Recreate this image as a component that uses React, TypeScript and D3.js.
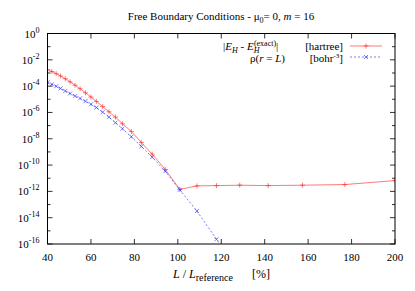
import { scaleLinear, scaleLog, line } from "d3";

const sizePct = [
  40, 42, 44, 46, 48.2, 50.4, 52.7, 55, 57.5, 60, 62.5, 65.4, 68.3, 71.3, 74.5,
  78.6, 83.2, 88.2, 94.2, 100.9, 108.8, 117.8, 128.5, 141.6, 157.4, 176.9, 200,
];

// |E_H - E_H(exact)| [hartree]
const energyErr = [
  1.82e-3, 1.29e-3, 8.9e-4, 5.9e-4, 3.6e-4, 2.1e-4, 1.17e-4, 6.3e-5, 3.1e-5,
  1.48e-5, 6.9e-6, 2.8e-6, 1.12e-6, 4.4e-7, 1.38e-7, 3.6e-8, 5.2e-9, 6.8e-10,
  4.7e-11, 1.41e-12, 2.6e-12, 2.75e-12, 2.95e-12, 2.75e-12, 2.95e-12, 3.3e-12,
  6.6e-12,
];

// rho(r = L) [bohr^-3], last point falls below the plot
const rhoEdge = [
  1.95e-4, 1.38e-4, 9.8e-5, 6.6e-5, 4.3e-5, 2.75e-5, 1.78e-5, 1.17e-5, 7.2e-6,
  4.2e-6, 2.35e-6, 1.05e-6, 4.4e-7, 1.66e-7, 5.8e-8, 1.41e-8, 2.6e-9, 4.0e-10,
  3.4e-11, 1.32e-12, 3.2e-14, 2.3e-16, 6e-19,
];

const xTicks = [40, 60, 80, 100, 120, 140, 160, 180, 200];
const yExps = [0, -2, -4, -6, -8, -10, -12, -14, -16];
const yMinorExps = [-1, -3, -5, -7, -9, -11, -13, -15];

const width = 415;
const height = 291;
const margin = { left: 47.5, right: 20, top: 33.5, bottom: 47 };
const font = "'Liberation Serif', 'Times New Roman', serif";

type Pt = [number, number];

export default function App() {
  const x = scaleLinear().domain([40, 200]).range([margin.left, width - margin.right]);
  const y = scaleLog().domain([1e-16, 1]).range([height - margin.bottom, margin.top]);
  const x0 = margin.left;
  const x1 = width - margin.right;
  const y0 = height - margin.bottom;
  const y1 = margin.top;

  const redPts: Pt[] = energyErr.map((v, i) => [x(sizePct[i]), y(v)]);
  const bluePts: Pt[] = rhoEdge.map((v, i) => [x(sizePct[i]), y(v)]);
  const lineFn = line<Pt>();

  const red = "#ff2020";
  const blue = "#2020ff";

  const plus = (cx: number, cy: number, k: string) => (
    <path key={k} d={`M${cx - 2.5},${cy}H${cx + 2.5}M${cx},${cy - 2.5}V${cy + 2.5}`} stroke={red} strokeWidth={0.6} />
  );
  const cross = (cx: number, cy: number, k: string) => (
    <path key={k} d={`M${cx - 2},${cy - 2}L${cx + 2},${cy + 2}M${cx - 2},${cy + 2}L${cx + 2},${cy - 2}`} stroke={blue} strokeWidth={0.6} />
  );

  return (
    <svg width={width} height={height} viewBox={`0 0 ${width} ${height}`} style={{ display: "block", position: "absolute", left: 0, top: 0, background: "#fff" }} fontFamily={font}>
      <defs>
        <clipPath id="plotClip">
          <rect x={x0} y={y1} width={x1 - x0} height={y0 - y1} />
        </clipPath>
      </defs>

      {/* title */}
      <text x={221} y={20} textAnchor="middle" fontSize={11}>
        Free Boundary Conditions - μ<tspan dy={3} fontSize={8}>0</tspan><tspan dy={-3}>= 0, </tspan><tspan fontStyle="italic">m</tspan> = 16
      </text>

      {/* ticks */}
      <g stroke="#000" strokeWidth={0.8}>
        {xTicks.map((t) => (
          <g key={"xt" + t}>
            <line x1={x(t)} x2={x(t)} y1={y0} y2={y0 - 5} />
            <line x1={x(t)} x2={x(t)} y1={y1} y2={y1 + 5} />
          </g>
        ))}
        {yExps.map((e) => (
          <g key={"yt" + e}>
            <line x1={x0} x2={x0 + 5} y1={y(Math.pow(10, e))} y2={y(Math.pow(10, e))} />
            <line x1={x1} x2={x1 - 5} y1={y(Math.pow(10, e))} y2={y(Math.pow(10, e))} />
          </g>
        ))}
        {yMinorExps.map((e) => (
          <g key={"ym" + e}>
            <line x1={x0} x2={x0 + 3} y1={y(Math.pow(10, e))} y2={y(Math.pow(10, e))} />
            <line x1={x1} x2={x1 - 3} y1={y(Math.pow(10, e))} y2={y(Math.pow(10, e))} />
          </g>
        ))}
      </g>

      {/* tick labels */}
      {xTicks.map((t) => (
        <text key={"xl" + t} x={x(t)} y={y0 + 17} textAnchor="middle" fontSize={11}>{t}</text>
      ))}
      {yExps.map((e) => (
        <text key={"yl" + e} x={39.5} y={y(Math.pow(10, e)) + 4} textAnchor="end" fontSize={11}>
          10<tspan dy={-5} fontSize={8}>{e}</tspan>
        </text>
      ))}

      {/* axis label */}
      <text x={173} y={278} fontSize={12}>
        <tspan fontStyle="italic">L</tspan> / <tspan fontStyle="italic">L</tspan>
        <tspan dy={3} fontSize={10}>reference</tspan>
      </text>
      <text x={252} y={278} fontSize={12}>[%]</text>

      {/* series */}
      <g clipPath="url(#plotClip)">
        <path d={lineFn(redPts) ?? ""} fill="none" stroke={red} strokeWidth={0.6} />
        <path d={lineFn(bluePts) ?? ""} fill="none" stroke={blue} strokeWidth={0.6} strokeDasharray="2,2" />
        {redPts.map((p, i) => plus(p[0], p[1], "r" + i))}
        {bluePts.filter((p) => p[1] <= y0).map((p, i) => cross(p[0], p[1], "b" + i))}
      </g>

      {/* legend */}
      <text x={223} y={50} fontSize={11}>
        |<tspan fontStyle="italic">E</tspan><tspan dy={2.5} fontSize={8} fontStyle="italic">H</tspan>
        <tspan dy={-2.5}> - </tspan><tspan fontStyle="italic">E</tspan>
        <tspan dy={2.5} fontSize={8} fontStyle="italic">H</tspan>
        <tspan dx={-5.5} dy={-7} fontSize={8}>(exact)</tspan>
        <tspan dy={4.5}>|</tspan>
      </text>
      <text x={343} y={50} textAnchor="end" fontSize={11}>[hartree]</text>
      <line x1={350} x2={382} y1={46} y2={46} stroke={red} strokeWidth={0.6} />
      {plus(366, 46, "lr")}

      <text x={285} y={61.5} textAnchor="end" fontSize={11}>
        ρ(<tspan fontStyle="italic">r</tspan> = <tspan fontStyle="italic">L</tspan>)
      </text>
      <text x={343} y={61.5} textAnchor="end" fontSize={11}>
        [bohr<tspan dy={-3.5} fontSize={7}>-3</tspan><tspan dy={3.5}>]</tspan>
      </text>
      <line x1={350} x2={382} y1={57} y2={57} stroke={blue} strokeWidth={0.6} strokeDasharray="2,2" />
      {cross(366, 57, "lb")}

      {/* frame */}
      <rect x={x0} y={y1} width={x1 - x0} height={y0 - y1} fill="none" stroke="#000" strokeWidth={1} />
    </svg>
  );
}
